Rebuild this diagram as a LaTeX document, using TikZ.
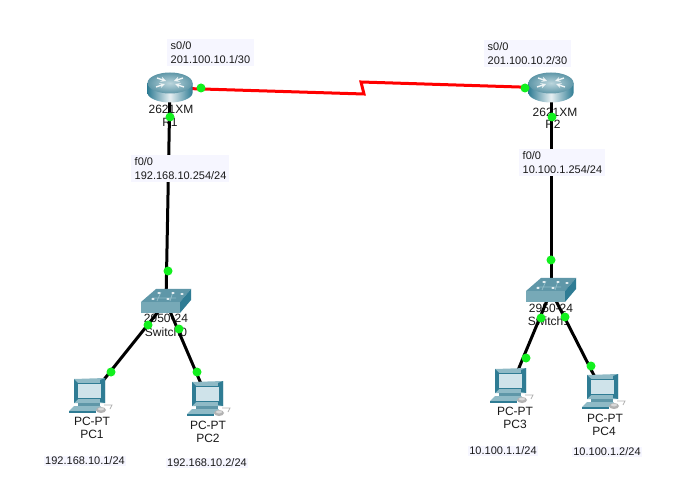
\documentclass[tikz,border=0pt]{standalone}
\usepackage{fontspec}
\setmainfont{Liberation Sans}
\definecolor{teala}{HTML}{5F97A8}
\definecolor{tealb}{HTML}{8FBAC6}
\definecolor{teald}{HTML}{2F7C94}
\definecolor{tealc}{HTML}{CFE3EA}
\definecolor{paleb}{HTML}{F6F6FF}
\definecolor{dotg}{HTML}{12F01E}
\tikzset{
  x=1pt,y=-1pt,
  cfg/.style={fill=paleb,inner sep=0pt,align=left,anchor=north west,font=\fontsize{11}{13.5}\selectfont,text=black!90},
  dev/.style={inner sep=0pt,font=\fontsize{12}{13}\selectfont,text=black!90},
  iptxt/.style={inner sep=1pt,fill=paleb,font=\fontsize{11}{13}\selectfont,text=black!90},
  eth/.style={line width=3pt,black},
  ser/.style={line width=3pt,red,line join=miter},
  port/.style={circle,fill=dotg,minimum size=9pt,inner sep=0pt},
  routerpic/.pic={
    \shade[left color=teald,right color=teald,middle color=white!85!teala]
      (-22.5,-5) -- (-22.5,5) .. controls (-22.5,10) and (-12,14.5) .. (0,14.5)
      .. controls (12,14.5) and (22.5,10) .. (22.5,5) -- (22.5,-5) -- cycle;
    \shade[inner color=tealb!60!white,outer color=teala]
      (0,-5) ellipse[x radius=22.5,y radius=10.5];
    \foreach \a/\b/\c/\d in {-13/-10/-4/-7,13/-10/4/-7,-14/-1/-5/-4,14/-1/5/-4}
      \draw[white!90!teala,line width=1.3pt,-stealth] (\a,\b) -- (\c,\d);
  },
  switchpic/.pic={
    \fill[teala] (-25,0) -- (-10,-13) -- (25,-13) -- (14,0) -- cycle;
    \fill[tealb!50!teala] (-25,0) -- (14,0) -- (14,11) -- (-25,11) -- cycle;
    \fill[teald] (14,0) -- (25,-13) -- (25,-2) -- (14,11) -- cycle;
    \draw[tealb,line width=.8pt] (-14,-4) -- (10,-4) (-5,-10) -- (-9,-1) (7,-10) -- (4,-1);
    \foreach \p/\q in {-13/-3,-7/-9,2/-3,7/-9,16/-8}
      \fill[white] (\p,\q) ellipse[x radius=1.8,y radius=1];
  },
  pcpic/.pic={
    \fill[tealb] (-16,-18) -- (15,-19) -- (15,6) -- (-16,6) -- cycle;
    \fill[teald] (15,-19) -- (10,-17) -- (10,5) -- (15,6) -- cycle;
    \fill[teald] (-16,-18) -- (-12,-14) -- (-12,2) -- (-16,6) -- cycle;
    \fill[tealc] (-13,-14) rectangle (11,1);
    \draw[teald,line width=.8pt] (-13,-14) rectangle (11,1);
    \fill[teala] (-12,6) -- (10,6) -- (10,9) -- (-12,9) -- cycle;
    \fill[tealb] (-16,9) -- (11,9) -- (6,14) -- (-21,14) -- cycle;
    \fill[teald] (-21,14) -- (6,14) -- (6,16) -- (-21,16) -- cycle;
    \draw[gray!60,line width=.8pt] (14,8) -- (22,8) -- (20,12);
    \fill[gray!60] (11,13) ellipse[x radius=5,y radius=3];
    \fill[white!70!gray] (11,12) ellipse[x radius=3,y radius=1.5];
  },
}
\begin{document}
\begin{tikzpicture}
\useasboundingbox (0,0) rectangle (675,489);
\fill[white] (0,0) rectangle (675,489);
% device positions
\coordinate (r1) at (170,88);
\coordinate (r2) at (551,88);
\coordinate (sw0) at (166,302);
\coordinate (sw1) at (551,291);
\coordinate (pc1) at (90,397);
\coordinate (pc2) at (208,400);
\coordinate (pc3) at (511,387);
\coordinate (pc4) at (603,393);
\coordinate (zigA) at (364,94);
\coordinate (zigB) at (361,82);
\node[iptxt] (a1) at (85,461) {192.168.10.1/24};
\node[iptxt] (a2) at (207,463) {192.168.10.2/24};
\node[iptxt] (a3) at (503,451) {10.100.1.1/24};
\node[iptxt] (a4) at (607,452) {10.100.1.2/24};
% device names
\node[dev] (n1) at (171,109) {2621XM};
\node[dev] (n1b) at (170,122) {R1};
\node[dev] (n2) at (555,112) {2621XM};
\node[dev] (n2b) at (553,124) {R2};
\node[dev] (n3) at (166,318) {2950-24};
\node[dev] (n3b) at (166,332) {Switch0};
\node[dev] (n4) at (551,308) {2950-24};
\node[dev] (n4b) at (549,321) {Switch1};
\node[dev] (n5) at (92,421) {PC-PT};
\node[dev] (n5b) at (92,434) {PC1};
\node[dev] (n6) at (208,425) {PC-PT};
\node[dev] (n6b) at (208,438) {PC2};
\node[dev] (n7) at (515,411) {PC-PT};
\node[dev] (n7b) at (515,424) {PC3};
\node[dev] (n8) at (605,418) {PC-PT};
\node[dev] (n8b) at (604,431) {PC4};
% links
\draw[eth] (r1) -- (sw0);
\draw[eth] (r2) -- (sw1);
\draw[eth] (sw0) -- (pc1);
\draw[eth] (sw0) -- (pc2);
\draw[eth] (sw1) -- (pc3);
\draw[eth] (sw1) -- (pc4);
\draw[ser] (r1) -- (zigA) -- (zigB) -- (r2);
% configuration labels, over the links
\node[cfg,minimum width=87pt,minimum height=27pt,text width=84pt] (l1) at (167,39) {\hspace*{2pt}s0/0\\\hspace*{2pt}201.100.10.1/30};
\node[cfg,minimum width=87pt,minimum height=27pt,text width=84pt] (l2) at (484,40) {\hspace*{2pt}s0/0\\\hspace*{2pt}201.100.10.2/30};
\node[cfg,minimum width=98pt,minimum height=27pt,text width=95pt] (l3) at (131,155) {\hspace*{2pt}f0/0\\\hspace*{2pt}192.168.10.254/24};
\node[cfg,minimum width=86pt,minimum height=27pt,text width=83pt] (l4) at (519,149) {\hspace*{2pt}f0/0\\\hspace*{2pt}10.100.1.254/24};
% devices
\pic at (r1) {routerpic};
\pic at (r2) {routerpic};
\pic at (sw0) {switchpic};
\pic at (sw1) {switchpic};
\pic at (pc1) {pcpic};
\pic at (pc2) {pcpic};
\pic at (pc3) {pcpic};
\pic at (pc4) {pcpic};
% link lights
\node[port] (p1) at (201,88) {};
\node[port] (p2) at (525,88) {};
\node[port] (p3) at (170,117) {};
\node[port] (p4) at (552,117) {};
\node[port] (p5) at (168,271) {};
\node[port] (p6) at (551,260) {};
\node[port] (p7) at (148,325) {};
\node[port] (p8) at (179,329) {};
\node[port] (p9) at (111,372) {};
\node[port] (p10) at (197,372) {};
\node[port] (p11) at (541,318) {};
\node[port] (p12) at (565,317) {};
\node[port] (p13) at (526,358) {};
\node[port] (p14) at (591,366) {};
\end{tikzpicture}
\end{document}
